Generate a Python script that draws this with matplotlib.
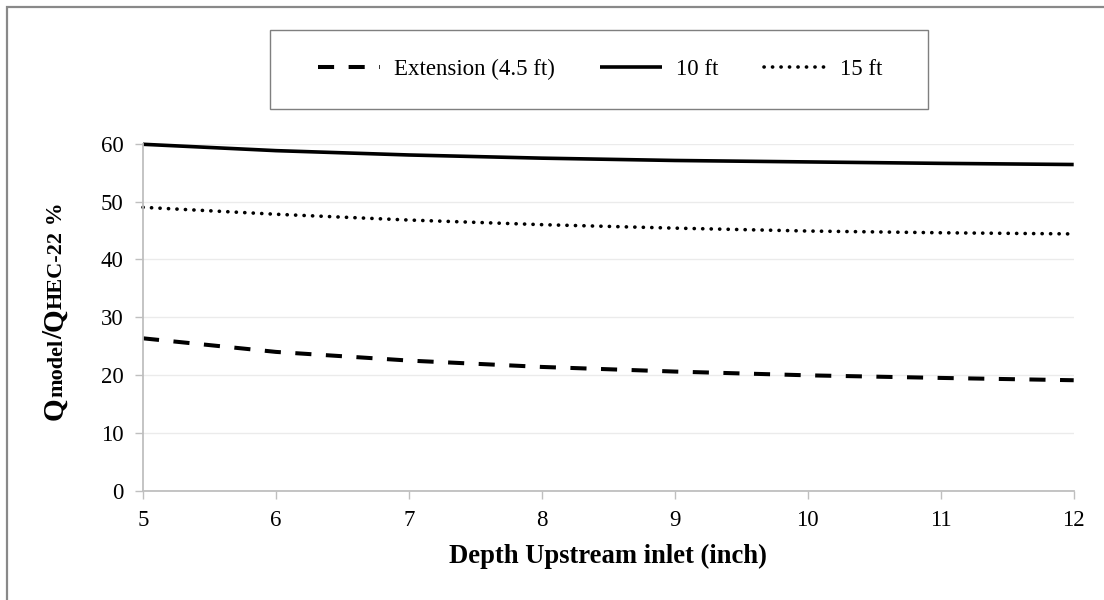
import matplotlib
matplotlib.use("Agg")
import matplotlib.pyplot as plt
from matplotlib.patches import Rectangle

# Depth upstream of the inlet (inch)
depth = [5, 6, 7, 8, 9, 10, 11, 12]

# Qmodel / QHEC-22 (%) for each inlet length
q_extension = [26.35, 24.0, 22.5, 21.4, 20.6, 19.95, 19.5, 19.1]
q_10ft = [59.9, 58.8, 58.05, 57.5, 57.1, 56.85, 56.6, 56.4]
q_15ft = [49.0, 47.8, 46.8, 46.0, 45.4, 44.9, 44.6, 44.4]

series_labels = ["Extension (4.5 ft)", "10 ft", "15 ft"]
x_ticks = [5, 6, 7, 8, 9, 10, 11, 12]
y_ticks = [0, 10, 20, 30, 40, 50, 60]

W, H = 1104, 600
SERIF = ["Liberation Serif", "DejaVu Serif"]
plt.rcParams["font.family"] = SERIF

fig = plt.figure(figsize=(W / 100, H / 100), dpi=100)
ax = fig.add_axes([143 / W, 1 - 490.7 / H, (1073.7 - 143) / W, (490.7 - 143.7) / H])

spine_col = "#BFBFBF"
grid_col = "#EBEBEB"

ln_ext, = ax.plot(depth, q_extension, color="black", lw=2.9,
                  linestyle=(0, (4.0, 3.6)), dash_capstyle="butt",
                  clip_on=False, label=series_labels[0])
ln_10, = ax.plot(depth, q_10ft, color="black", lw=2.6, solid_capstyle="butt",
                 clip_on=False, label=series_labels[1])
ln_15, = ax.plot(depth, q_15ft, color="black", lw=2.6,
                 linestyle=(0, (0.05, 2.3)), dash_capstyle="round",
                 clip_on=False, label=series_labels[2])

ax.set_xlim(5, 12)
ax.set_ylim(0, 60)
ax.set_xticks(x_ticks)
ax.set_yticks(y_ticks)
ax.set_xticklabels([str(v) for v in x_ticks])
ax.set_yticklabels([str(v) for v in y_ticks])
ax.yaxis.grid(True, color=grid_col, lw=1.0)
ax.xaxis.grid(False)
ax.set_axisbelow(True)
for side in ("top", "right"):
    ax.spines[side].set_visible(False)
for side in ("left", "bottom"):
    ax.spines[side].set_color(spine_col)
    ax.spines[side].set_linewidth(1.3)
ax.tick_params(axis="both", colors=spine_col, labelcolor="black",
               labelsize=16.5, direction="out", width=1.0)
ax.tick_params(axis="y", length=6, pad=8)
ax.tick_params(axis="x", length=6, pad=8)

ax.set_xlabel("Depth Upstream inlet (inch)", fontsize=19.2, fontweight="bold",
              labelpad=9)

# Composite y-axis label: large Q with smaller trailing text
renderer = fig.canvas.get_renderer()
pieces = [("Q", 21), ("model", 16), ("/", 21), ("Q", 21), ("HEC-22", 16), (" %", 16.5)]
widths = []
for s, fs in pieces:
    t = fig.text(0, 0, s, fontsize=fs, fontweight="bold")
    widths.append(t.get_window_extent(renderer).width)
    t.remove()
total = sum(widths)
base_x = 62
y_center = 311  # pixels from the top
y_pix = y_center + total / 2  # start at the bottom, read upwards
for (s, fs), w in zip(pieces, widths):
    fig.text(base_x / W, 1 - y_pix / H, s, fontsize=fs, fontweight="bold",
             rotation=90, rotation_mode="anchor", ha="left", va="baseline")
    y_pix -= w

# Legend in a framed box above the plot area
leg = fig.legend(handles=[ln_ext, ln_10, ln_15], loc="center",
                 bbox_to_anchor=(600 / W, 1 - 69 / H), ncol=3, frameon=False,
                 fontsize=16.5, handlelength=2.7, handletextpad=0.6,
                 columnspacing=2.0)
fig.add_artist(Rectangle((270 / W, 1 - 109 / H), (928 - 270) / W, 79 / H,
                         transform=fig.transFigure, fill=False,
                         edgecolor="#7F7F7F", lw=1.0))

# Outer chart border (left and top edges visible)
fig.add_artist(Rectangle((7 / W, -0.05), 1.2, 1 - 7 / H + 0.05,
                         transform=fig.transFigure, fill=False,
                         edgecolor="#898989", lw=1.6))

fig.savefig("out.png", dpi=100)
